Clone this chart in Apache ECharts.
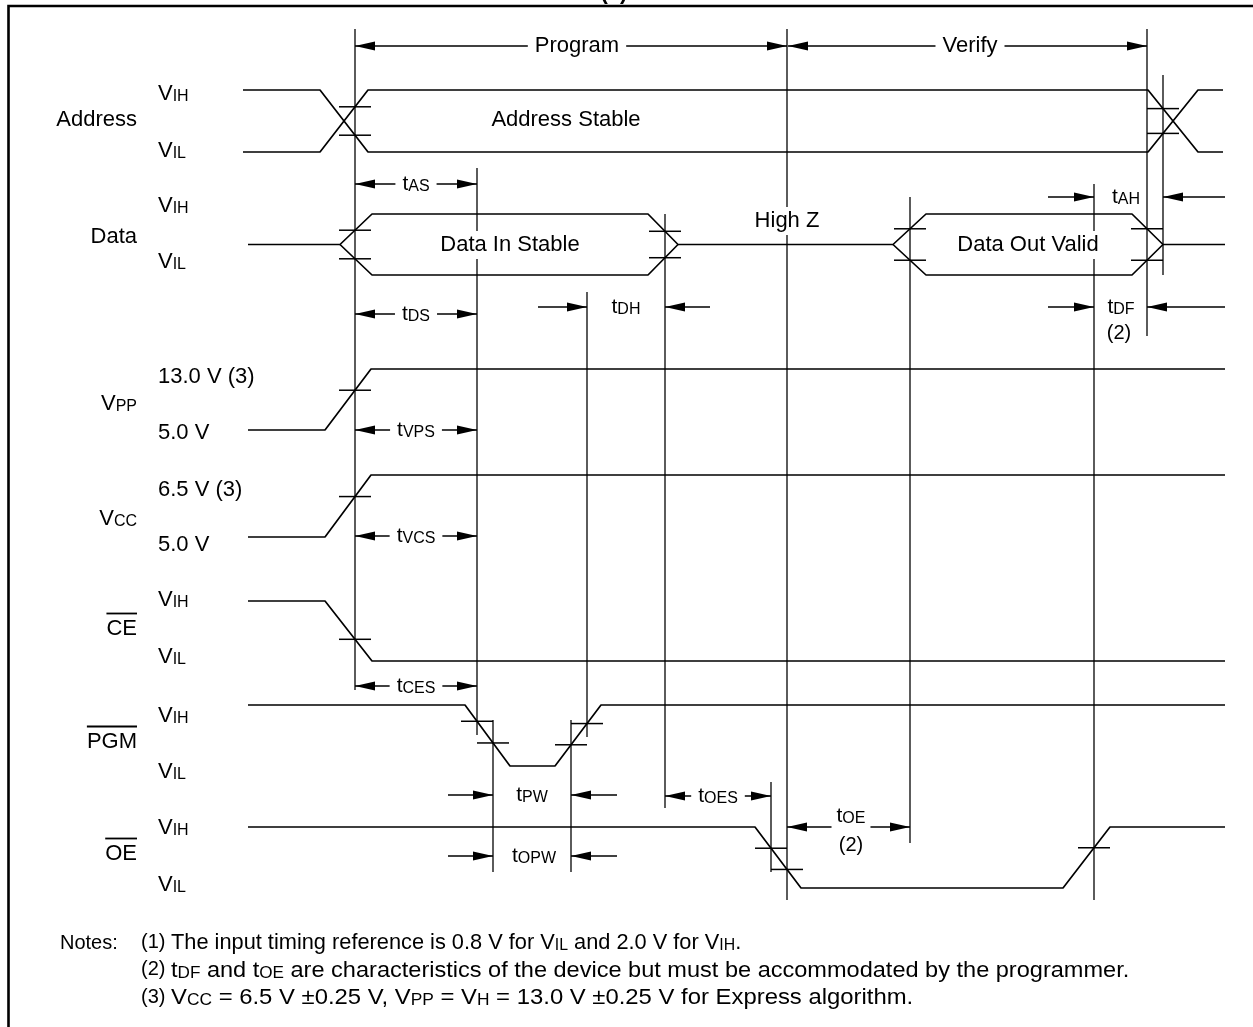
<!DOCTYPE html>
<html><head><meta charset="utf-8">
<script src="https://cdn.jsdelivr.net/npm/echarts@6/dist/echarts.min.js"></script>
<style>html,body{margin:0;padding:0;background:#fff}#c{width:1253px;height:1027px}</style>
</head><body><div id="c"></div>
<script>
// ================= DATA =================
// Signal rows
const rowNames     = ['Address', 'Data', 'VPP', 'VCC', 'CE', 'PGM', 'OE'];
const rowActiveLow = [false, false, false, false, true, true, true];
const rowHighLabel = ['VIH', 'VIH', '13.0 V (3)', '6.5 V (3)', 'VIH', 'VIH', 'VIH'];
const rowLowLabel  = ['VIL', 'VIL', '5.0 V', '5.0 V', 'VIL', 'VIL', 'VIL'];

// Waveforms: [time, level]  (1 = high, 0 = low, 0.5 = floating / mid)
const addressUpper = [[243,1],[320,1],[368,0],[1148,0],[1198,1],[1223,1]];
const addressLower = [[243,0],[320,0],[368,1],[1148,1],[1198,0],[1223,0]];
const dataUpper    = [[248,0.5],[340,0.5],[372,1],[648,1],[678,0.5],[893,0.5],[926,1],[1132,1],[1163,0.5],[1225,0.5]];
const dataLowerIn  = [[340,0.5],[372,0],[648,0],[678,0.5]];
const dataLowerOut = [[893,0.5],[926,0],[1132,0],[1163,0.5]];
const vppWave      = [[248,0],[325,0],[371,1],[1225,1]];
const vccWave      = [[248,0],[325,0],[371,1],[1225,1]];
const ceWave       = [[248,1],[325,1],[372,0],[1225,0]];
const pgmWave      = [[248,1],[465,1],[510,0],[555,0],[601,1],[1225,1]];
const oeWave       = [[248,1],[755,1],[801,0],[1063,0],[1110,1],[1225,1]];
const waves   = [addressUpper, addressLower, dataUpper, dataLowerIn, dataLowerOut, vppWave, vccWave, ceWave, pgmWave, oeWave];
const waveRow = [0, 0, 1, 1, 1, 2, 3, 4, 5, 6];

// Timing reference lines
const refTime = [355, 477, 587, 665, 787, 910, 1094, 1147, 1163, 493, 571, 771];
const refFrom = [29, 168, 292, 214, 29, 197, 184, 29, 75, 720, 720, 782];
const refTo   = [690, 735, 737, 808, 900, 843, 900, 336, 275, 872, 872, 872];

// Threshold crossings (row, time)
const crossRow  = [0, 0, 1, 1, 1, 1, 2, 3, 4, 5, 5, 5, 5, 6, 6, 6];
const crossTime = [355, 1163, 355, 665, 910, 1147, 355, 355, 355, 477, 493, 571, 587, 771, 787, 1094];

// Span arrows  |<-- label -->|
const spanText = ['Program', 'Verify', 'tAS', 'tDS', 'tVPS', 'tVCS', 'tCES', 'tOES', 'tOE'];
const spanNote = ['', '', '', '', '', '', '', '', '(2)'];
const spanFrom = [355, 788, 355, 355, 355, 355, 355, 665, 787];
const spanTo   = [787, 1147, 477, 477, 477, 477, 477, 771, 910];

// Enclosing arrows  -->| label |<--
const gapText = ['tDH', 'tPW', 'tOPW', 'tAH', 'tDF'];
const gapNote = ['', '', '', '', '(2)'];
const gapFrom = [587, 493, 493, 1094, 1094];
const gapTo   = [665, 571, 571, 1163, 1147];

const bodyText = ['Address Stable', 'Data In Stable', 'High Z', 'Data Out Valid'];
const noteHead  = 'Notes:';
const noteMarks = ['(1)', '(2)', '(3)'];
const noteLines = [
  'The input timing reference is 0.8 V for V{s|IL} and 2.0 V for V{s|IH}.',
  't{s|DF} and t{s|OE} are characteristics of the device but must be accommodated by the programmer.',
  'V{s|CC} = 6.5 V \u00b10.25 V, V{s|PP} = V{s|H} = 13.0 V \u00b10.25 V for Express algorithm.'
];
const topTitle = '(1)';

// ================= LAYOUT =================
const rowHighY      = [90, 214, 369, 475, 601, 705, 827];
const rowLowY       = [152, 275, 430, 537, 661, 766, 888];
const rowNameY      = [120, 237, 404, 519, 629, 742, 854];
const rowHighLabelY = [94, 206, 377, 490, 600, 716, 828];
const rowLowLabelY  = [151, 262, 433, 545, 657, 772, 885];
const nameRightX = 137, levelLeftX = 158;
const spanY      = [46, 46, 184, 314, 430, 536, 686, 796, 827];
const spanLabelX = [577, 970, 416, 416, 416, 416, 416, 718, 851];
const gapY      = [307, 795, 856, 197, 307];
const gapTailL  = [538, 448, 448, 1048, 1048];
const gapTailR  = [710, 617, 617, 1225, 1225];
const gapLabelX = [626, 532, 534, 1126, 1121];
const bodyAt = [[566, 120], [510, 245], [787, 221], [1028, 245]];
const bodyBg = [false, true, true, true];
const notesX = 60, noteMarkX = 141, noteTextX = 171, notesY = 943, noteStep = 27.5;
const noteScaleX = [0.99, 1.07, 1.085];

const FONT = '"Liberation Sans", Arial, Helvetica, sans-serif';
const INK = '#000', REF = '#333';
const HEAD_L = 20, HEAD_W = 4.5, HATCH = 16;

function levelY(row, lv) { return rowLowY[row] - lv * (rowLowY[row] - rowHighY[row]); }

function markup(s) {
  if (/^t[A-Z]+$/.test(s)) return '{t|t}{s|' + s.slice(1) + '}';
  if (/^V[A-Z]+$/.test(s)) return '{b|V}{s|' + s.slice(1) + '}';
  return '{b|' + s + '}';
}
const richMain = {
  b: { fontSize: 22, fontFamily: FONT, color: INK, verticalAlign: 'bottom' },
  t: { fontSize: 21, fontFamily: FONT, color: INK, verticalAlign: 'bottom' },
  s: { fontSize: 16, fontFamily: FONT, color: INK, verticalAlign: 'bottom' },
  n: { fontSize: 20, fontFamily: FONT, color: INK, verticalAlign: 'bottom' }
};
const richNote = {
  s: { fontSize: 16, fontFamily: FONT, color: INK, verticalAlign: 'bottom' }
};

// measure text width
const mctx = document.createElement('canvas').getContext('2d');
function textW(s, size) { mctx.font = size + 'px ' + FONT; return mctx.measureText(s).width; }

// ---------- threshold crossing marks computed on waveform edges ----------
const crossPts = [];
crossTime.forEach((t, i) => {
  const r = crossRow[i];
  waves.forEach((w, k) => {
    if (waveRow[k] !== r) return;
    for (let j = 0; j < w.length - 1; j++) {
      const a = w[j], b = w[j + 1];
      if (a[1] !== b[1] && t >= a[0] && t <= b[0]) {
        const lv = a[1] + (b[1] - a[1]) * (t - a[0]) / (b[0] - a[0]);
        crossPts.push([t, levelY(r, lv)]);
        break;
      }
    }
  });
});

// ---------- text items ----------
const texts = [];
function addText(x, y, text, o) { texts.push(Object.assign({ x, y, text, align: 'center', rich: richMain }, o || {})); }
rowNames.forEach((n, i) => {
  addText(nameRightX, rowNameY[i], markup(n), { align: 'right' });
  addText(levelLeftX, rowHighLabelY[i], markup(rowHighLabel[i]), { align: 'left' });
  addText(levelLeftX, rowLowLabelY[i], markup(rowLowLabel[i]), { align: 'left' });
});
bodyText.forEach((s, i) => addText(bodyAt[i][0], bodyAt[i][1], markup(s), { bg: bodyBg[i], pad: [3, 4] }));
spanText.forEach((s, i) => {
  let txt = markup(s);
  const o = { bg: true, pad: [0, 7] };
  if (spanNote[i]) { txt += '\n{n|' + spanNote[i] + '}'; o.lineHeight = 28; o.pad = [0, 5]; }
  addText(spanLabelX[i], spanY[i], txt, o);
});
gapText.forEach((s, i) => {
  addText(gapLabelX[i], gapY[i], markup(s));
  if (gapNote[i]) addText(gapLabelX[i] - 2, gapY[i] + 26, '{n|' + gapNote[i] + '}');
});
addText(notesX, notesY, noteHead, { align: 'left', size: 20, rich: richNote });
noteMarks.forEach((m, i) => {
  addText(noteMarkX, notesY - 1 + i * noteStep, m, { align: 'left', size: 20, rich: richNote });
  addText(noteTextX, notesY + i * noteStep, noteLines[i], { align: 'left', size: 22, rich: richNote, sx: noteScaleX[i] });
});

// overlines for active-low signals
const overlines = [];
rowNames.forEach((n, i) => {
  if (!rowActiveLow[i]) return;
  const w = textW(n, 22);
  overlines.push([nameRightX - w, nameRightX, rowNameY[i] - 15.5]);
});

function head(x, y, dir) {
  return { type: 'polygon', shape: { points: [[x, y], [x - dir * HEAD_L, y - HEAD_W], [x - dir * HEAD_L, y + HEAD_W]] }, style: { fill: INK } };
}
function seg(x1, y1, x2, y2, color, w) {
  return { type: 'line', shape: { x1, y1, x2, y2 }, style: { stroke: color || INK, lineWidth: w || 1.6 } };
}

const chart = echarts.init(document.getElementById('c'));
const series = [];

// reference lines
series.push({
  type: 'custom', coordinateSystem: 'cartesian2d', clip: false, silent: true, z: 1,
  data: refTime.map((t, i) => [t, refFrom[i], refTo[i]]),
  renderItem: (p, api) => {
    const a = api.coord([api.value(0), api.value(1)]), b = api.coord([api.value(0), api.value(2)]);
    return seg(a[0], a[1], b[0], b[1], REF, 1.6);
  }
});
// waveforms
waves.forEach((w, k) => {
  series.push({
    type: 'line', silent: true, z: 3, symbol: 'none', animation: false,
    data: w.map(([t, lv]) => [t, levelY(waveRow[k], lv)]),
    lineStyle: { color: INK, width: 1.7 }
  });
});
// threshold marks
series.push({
  type: 'custom', coordinateSystem: 'cartesian2d', clip: false, silent: true, z: 4,
  data: crossPts,
  renderItem: (p, api) => {
    const c = api.coord([api.value(0), api.value(1)]);
    return seg(c[0] - HATCH, c[1], c[0] + HATCH, c[1], INK, 1.5);
  }
});
// span arrows
series.push({
  type: 'custom', coordinateSystem: 'cartesian2d', clip: false, silent: true, z: 4,
  data: spanFrom.map((f, i) => [f, spanY[i]]),
  renderItem: (p, api) => {
    const i = p.dataIndex;
    const a = api.coord([spanFrom[i], spanY[i]]), b = api.coord([spanTo[i], spanY[i]]);
    return { type: 'group', children: [seg(a[0], a[1], b[0], b[1]), head(a[0], a[1], -1), head(b[0], b[1], 1)] };
  }
});
// enclosing arrows
series.push({
  type: 'custom', coordinateSystem: 'cartesian2d', clip: false, silent: true, z: 4,
  data: gapFrom.map((f, i) => [f, gapY[i]]),
  renderItem: (p, api) => {
    const i = p.dataIndex;
    const l0 = api.coord([gapTailL[i], gapY[i]]), l1 = api.coord([gapFrom[i], gapY[i]]);
    const r0 = api.coord([gapTailR[i], gapY[i]]), r1 = api.coord([gapTo[i], gapY[i]]);
    return { type: 'group', children: [
      seg(l0[0], l0[1], l1[0], l1[1]), head(l1[0], l1[1], 1),
      seg(r0[0], r0[1], r1[0], r1[1]), head(r1[0], r1[1], -1)
    ] };
  }
});
// overlines
series.push({
  type: 'custom', coordinateSystem: 'cartesian2d', clip: false, silent: true, z: 5,
  data: overlines,
  renderItem: (p, api) => {
    const a = api.coord([api.value(0), api.value(2)]), b = api.coord([api.value(1), api.value(2)]);
    return seg(a[0], a[1], b[0], b[1], INK, 1.8);
  }
});
// texts
series.push({
  type: 'custom', coordinateSystem: 'cartesian2d', clip: false, silent: true, z: 10,
  data: texts.map(t => [t.x, t.y]),
  renderItem: (p, api) => {
    const t = texts[p.dataIndex];
    const c = api.coord([t.x, t.y]);
    const style = {
      text: t.text, rich: t.rich, fontSize: t.size || 22, fontFamily: FONT, fill: INK,
      align: t.align, verticalAlign: 'middle'
    };
    if (t.lineHeight) style.lineHeight = t.lineHeight;
    if (t.bg) { style.backgroundColor = '#fff'; style.padding = t.pad || [0, 6]; }
    return { type: 'text', x: c[0], y: c[1], scaleX: t.sx || 1, style };
  }
});

chart.setOption({
  animation: false,
  backgroundColor: '#fff',
  grid: { left: 0, right: 0, top: 0, bottom: 0 },
  xAxis: { type: 'value', min: 0, max: 1253, show: false },
  yAxis: { type: 'value', min: 0, max: 1027, inverse: true, show: false },
  graphic: [
    { type: 'polyline', shape: { points: [[8.5, 1030], [8.5, 6], [1260, 6]] }, style: { stroke: '#000', lineWidth: 2.6, fill: null }, z: 100 },
    { type: 'text', x: 614, y: 4, style: { text: topTitle, font: 'bold 22px ' + FONT, fill: '#000', align: 'center', verticalAlign: 'bottom' }, z: 99 }
  ],
  series
});
</script></body></html>
